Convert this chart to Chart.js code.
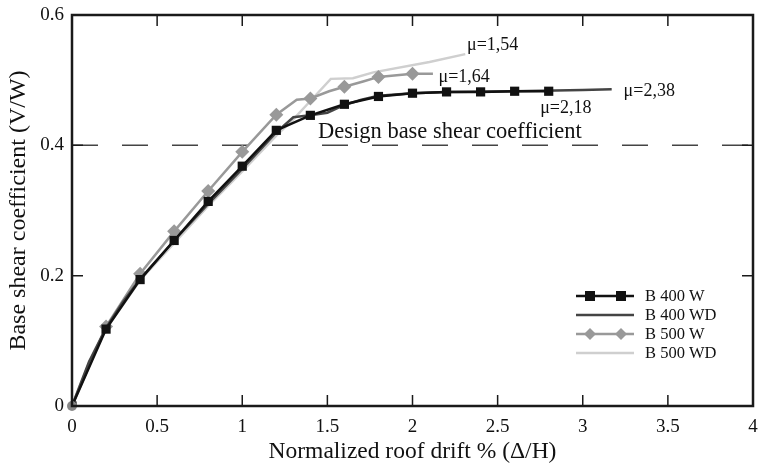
<!DOCTYPE html>
<html>
<head>
<meta charset="utf-8">
<script src="https://cdn.jsdelivr.net/npm/chart.js@4/dist/chart.umd.min.js"></script>
<style>
html,body{margin:0;padding:0;background:#fff;}
#wrap{width:761px;height:466px;position:relative;}
</style>
</head>
<body>
<div id="wrap"><canvas id="c" width="761" height="466"></canvas></div>
<script>
// ---- data ----
const xTicks = [0, 0.5, 1, 1.5, 2, 2.5, 3, 3.5, 4];
const yTicks = [0, 0.2, 0.4, 0.6];

const b400wX = [0, 0.2, 0.4, 0.6, 0.8, 1.0, 1.2, 1.4, 1.6, 1.8, 2.0, 2.2, 2.4, 2.6, 2.8];
const b400wY = [0, 0.118, 0.194, 0.254, 0.314, 0.368, 0.423, 0.446, 0.463, 0.475, 0.480, 0.482, 0.482, 0.483, 0.483];

const b400wdX = [0, 0.1, 0.2, 0.3, 0.4, 0.6, 0.8, 1.0, 1.2, 1.3, 1.4, 1.5, 1.6, 1.7, 1.8, 2.0, 2.2, 2.6, 3.0, 3.17];
const b400wdY = [0, 0.068, 0.12, 0.16, 0.195, 0.254, 0.31, 0.364, 0.42, 0.443, 0.446, 0.45, 0.462, 0.47, 0.476, 0.48, 0.482, 0.483, 0.485, 0.486];

const b500wX = [0, 0.2, 0.4, 0.6, 0.8, 1.0, 1.2, 1.32, 1.4, 1.51, 1.6, 1.71, 1.8, 2.0, 2.12];
const b500wY = [0, 0.122, 0.203, 0.268, 0.33, 0.39, 0.447, 0.47, 0.472, 0.483, 0.49, 0.498, 0.505, 0.51, 0.51];

const b500wdX = [0, 0.1, 0.2, 0.4, 0.6, 0.8, 1.0, 1.2, 1.3, 1.4, 1.52, 1.65, 1.77, 2.1, 2.31];
const b500wdY = [0, 0.066, 0.118, 0.193, 0.25, 0.307, 0.36, 0.415, 0.44, 0.468, 0.502, 0.503, 0.512, 0.528, 0.54];

const designLevel = 0.4;
const annotations = [
  {text: "μ=1,54", x: 2.32, y: 0.554},
  {text: "μ=1,64", x: 2.153, y: 0.505},
  {text: "μ=2,38", x: 3.24, y: 0.483},
  {text: "μ=2,18", x: 2.75, y: 0.457},
  {text: "Design base shear coefficient", x: 1.445, y: 0.42, big: true}
];

const FONT = "'Liberation Serif', 'DejaVu Serif', serif";
const toPts = (xs, ys) => xs.map((x, i) => ({x: x, y: ys[i]}));
const onGrid = v => Math.abs(v * 5 - Math.round(v * 5)) < 1e-6 && v > 0;

const datasets = [
  {label: "B 400 W", data: toPts(b400wX, b400wY), borderColor: "#111", backgroundColor: "#111",
   borderWidth: 2.5, pointStyle: "rect", pointRadius: 6.5, pointBorderWidth: 0, marker: "rect", order: 1},
  {label: "B 400 WD", data: toPts(b400wdX, b400wdY), borderColor: "#444", backgroundColor: "#444",
   borderWidth: 2.5, pointRadius: 0, marker: null, order: 2},
  {label: "B 500 W", data: toPts(b500wX, b500wY), borderColor: "#999", backgroundColor: "#999",
   borderWidth: 2.5, pointStyle: "rectRot", pointRadius: ctx => onGrid(ctx.raw.x) ? 7 : 0,
   pointBorderWidth: 0, marker: "rectRot", order: 3},
  {label: "B 500 WD", data: toPts(b500wdX, b500wdY), borderColor: "#cfcfcf", backgroundColor: "#cfcfcf",
   borderWidth: 2.5, pointRadius: 0, marker: null, order: 4}
];

const framePlugin = {
  id: "frame",
  beforeDatasetsDraw(chart) {
    const {ctx, chartArea: a, scales: {y}} = chart;
    const yy = y.getPixelForValue(designLevel);
    ctx.save();
    ctx.strokeStyle = "#444";
    ctx.lineWidth = 1.5;
    ctx.setLineDash([26, 24]);
    ctx.beginPath();
    ctx.moveTo(a.left, yy);
    ctx.lineTo(a.right, yy);
    ctx.stroke();
    ctx.restore();
  },
  afterDatasetsDraw(chart) {
    const {ctx, chartArea: a, scales: {x, y}} = chart;
    ctx.save();
    // origin marker
    ctx.fillStyle = "#888";
    ctx.beginPath();
    ctx.arc(x.getPixelForValue(0), y.getPixelForValue(0), 5, 0, Math.PI * 2);
    ctx.fill();
    // frame
    ctx.strokeStyle = "#1a1a1a";
    ctx.lineWidth = 2.5;
    ctx.strokeRect(a.left, a.top, a.right - a.left, a.bottom - a.top);
    // inner ticks
    ctx.lineWidth = 1.5;
    ctx.beginPath();
    xTicks.slice(1, -1).forEach(v => {
      const px = x.getPixelForValue(v);
      ctx.moveTo(px, a.bottom); ctx.lineTo(px, a.bottom - 11);
      ctx.moveTo(px, a.top); ctx.lineTo(px, a.top + 11);
    });
    yTicks.slice(1, -1).forEach(v => {
      const py = y.getPixelForValue(v);
      ctx.moveTo(a.left, py); ctx.lineTo(a.left + 11, py);
      ctx.moveTo(a.right, py); ctx.lineTo(a.right - 11, py);
    });
    ctx.stroke();
    // annotations
    ctx.fillStyle = "#111";
    ctx.textBaseline = "middle";
    ctx.textAlign = "left";
    annotations.forEach(an => {
      ctx.font = (an.big ? "22.5px " : "18px ") + FONT;
      ctx.fillText(an.text, x.getPixelForValue(an.x), y.getPixelForValue(an.y));
    });
    // legend
    const lx0 = 576, lx1 = 634, tx = 645;
    const rows = [296, 315, 334, 353];
    ctx.font = "16.5px " + FONT;
    chart.data.datasets.forEach((ds, i) => {
      const ry = rows[i];
      ctx.strokeStyle = ds.borderColor;
      ctx.lineWidth = 2.5;
      ctx.setLineDash([]);
      ctx.beginPath(); ctx.moveTo(lx0, ry); ctx.lineTo(lx1, ry); ctx.stroke();
      ctx.fillStyle = ds.backgroundColor;
      if (ds.marker === "rect") {
        [590, 621].forEach(mx => ctx.fillRect(mx - 5, ry - 5, 10, 10));
      } else if (ds.marker === "rectRot") {
        [590, 621].forEach(mx => {
          ctx.beginPath();
          ctx.moveTo(mx, ry - 6); ctx.lineTo(mx + 6, ry); ctx.lineTo(mx, ry + 6); ctx.lineTo(mx - 6, ry);
          ctx.closePath(); ctx.fill();
        });
      }
      ctx.fillStyle = "#111";
      ctx.fillText(ds.label, tx, ry + 1);
    });
    ctx.restore();
  }
};

new Chart(document.getElementById("c"), {
  type: "line",
  data: {datasets: datasets},
  options: {
    responsive: false,
    animation: false,
    layout: {padding: {left: 0, top: 15, right: 8, bottom: 0}},
    plugins: {legend: {display: false}, tooltip: {enabled: false}},
    elements: {line: {tension: 0}},
    scales: {
      x: {
        type: "linear", min: 0, max: 4,
        afterBuildTicks: s => { s.ticks = xTicks.map(v => ({value: v})); },
        afterFit: s => { s.height = 60; s.paddingRight = 0; s.paddingLeft = 0; },
        grid: {display: false, drawTicks: false},
        border: {display: false},
        ticks: {color: "#111", font: {family: FONT, size: 19}, padding: 10, maxRotation: 0,
                callback: v => String(v)},
        title: {display: true, text: "Normalized roof drift % (Δ/H)", color: "#111",
                font: {family: FONT, size: 23.5}, padding: {top: 0, bottom: 0}}
      },
      y: {
        type: "linear", min: 0, max: 0.6,
        afterBuildTicks: s => { s.ticks = yTicks.map(v => ({value: v})); },
        afterFit: s => { s.width = 72; s.paddingTop = 0; s.paddingBottom = 0; },
        grid: {display: false, drawTicks: false},
        border: {display: false},
        ticks: {color: "#111", font: {family: FONT, size: 19}, padding: 8,
                callback: v => String(v)},
        title: {display: true, text: "Base shear coefficient (V/W)", color: "#111",
                font: {family: FONT, size: 24}, padding: {top: 4, bottom: 0}}
      }
    }
  },
  plugins: [framePlugin]
});
</script>
</body>
</html>
